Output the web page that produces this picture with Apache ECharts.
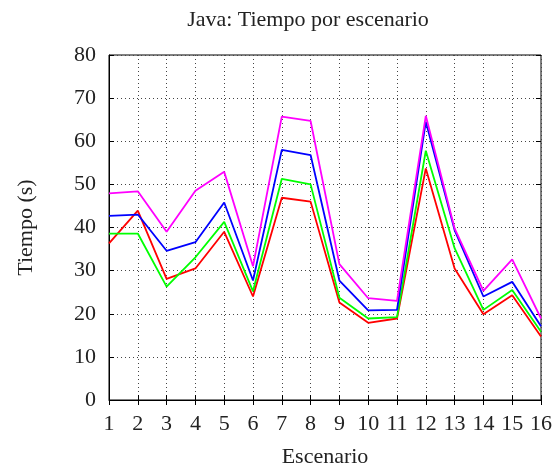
<!DOCTYPE html>
<html>
<head>
<meta charset="utf-8">
<script src="https://cdn.jsdelivr.net/npm/echarts@6/dist/echarts.min.js"></script>
<style>
  html, body { margin: 0; padding: 0; background: #fff; }
  #chart { width: 558px; height: 469px; }
</style>
</head>
<body>
<div id="chart"></div>
<script>
// Escenarios 1..16 y tiempos medidos (s) para cada serie
const escenarios = ['1','2','3','4','5','6','7','8','9','10','11','12','13','14','15','16'];
const serieRoja    = [36.3, 43.9, 28.1, 30.5, 39.0, 24.0, 46.9, 46.0, 22.6, 17.9, 18.9, 53.7, 30.5, 19.9, 24.3, 14.7];
const serieVerde   = [38.6, 38.6, 26.3, 33.1, 41.3, 25.2, 51.3, 50.0, 23.7, 18.9, 19.2, 57.8, 35.2, 20.9, 25.5, 15.8];
const serieAzul    = [42.7, 43.0, 34.6, 36.6, 45.8, 27.7, 58.0, 56.8, 27.7, 20.8, 20.9, 64.5, 39.4, 24.0, 27.4, 17.1];
const serieMagenta = [47.9, 48.4, 39.0, 48.5, 52.9, 31.0, 65.7, 64.7, 31.5, 23.6, 23.0, 65.9, 39.8, 25.3, 32.6, 18.9];
const ticksY = [0, 10, 20, 30, 40, 50, 60, 70, 80];

const fuente = 'Liberation Serif';
const textoColor = '#222';
const tam = 22;

function linea(nombre, datos, color) {
  return {
    name: nombre, type: 'line', data: datos,
    symbol: 'none', smooth: false,
    lineStyle: { color: color, width: 1.8 },
    xAxisIndex: 0, yAxisIndex: 0
  };
}

const chart = echarts.init(document.getElementById('chart'), null, { renderer: 'canvas' });
chart.setOption({
  animation: false,
  backgroundColor: '#fff',
  title: {
    text: 'Java: Tiempo por escenario',
    left: 303, top: 4, textAlign: 'center',
    textStyle: { fontFamily: fuente, fontSize: tam, fontWeight: 'normal', color: textoColor }
  },
  grid: {
    left: 109, top: 55, right: 17, bottom: 69,
    outerBoundsMode: 'none', containLabel: false,
    show: true, borderColor: '#000', borderWidth: 1
  },
  xAxis: [{
    type: 'category', data: escenarios, boundaryGap: false,
    name: 'Escenario', nameLocation: 'middle', nameGap: 46,
    nameTextStyle: { fontFamily: fuente, fontSize: tam, color: textoColor },
    axisLine: { lineStyle: { color: '#000', width: 1 } },
    axisTick: { inside: true, length: 5, lineStyle: { color: '#000' } },
    axisLabel: { fontFamily: fuente, fontSize: tam, color: textoColor, margin: 13, interval: 0 },
    splitLine: { show: true, lineStyle: { color: '#444', type: [1, 3], width: 1 } }
  }, {
    type: 'category', data: escenarios, boundaryGap: false, position: 'top',
    axisLine: { show: false },
    axisTick: { inside: true, length: 5, lineStyle: { color: '#000' } },
    axisLabel: { show: false }, splitLine: { show: false }
  }],
  yAxis: [{
    type: 'value', min: 0, max: 80, interval: 10,
    name: 'Tiempo (s)', nameLocation: 'middle', nameGap: 72,
    nameTextStyle: { fontFamily: fuente, fontSize: tam, color: textoColor },
    axisLine: { show: true, lineStyle: { color: '#000', width: 1 } },
    axisTick: { show: true, inside: true, length: 5, lineStyle: { color: '#000' } },
    axisLabel: {
      fontFamily: fuente, fontSize: tam, color: textoColor, margin: 13,
      formatter: v => ticksY.includes(v) ? String(v) : ''
    },
    splitLine: { show: true, lineStyle: { color: '#444', type: [1, 3], width: 1 } }
  }, {
    type: 'value', min: 0, max: 80, interval: 10, position: 'right',
    axisLine: { show: false },
    axisTick: { show: true, inside: true, length: 5, lineStyle: { color: '#000' } },
    axisLabel: { show: false }, splitLine: { show: false }
  }],
  series: [
    linea('Serie 1', serieRoja, '#ff0000'),
    linea('Serie 2', serieVerde, '#00ff00'),
    linea('Serie 3', serieAzul, '#0000ff'),
    linea('Serie 4', serieMagenta, '#ff00ff')
  ]
});
</script>
</body>
</html>
